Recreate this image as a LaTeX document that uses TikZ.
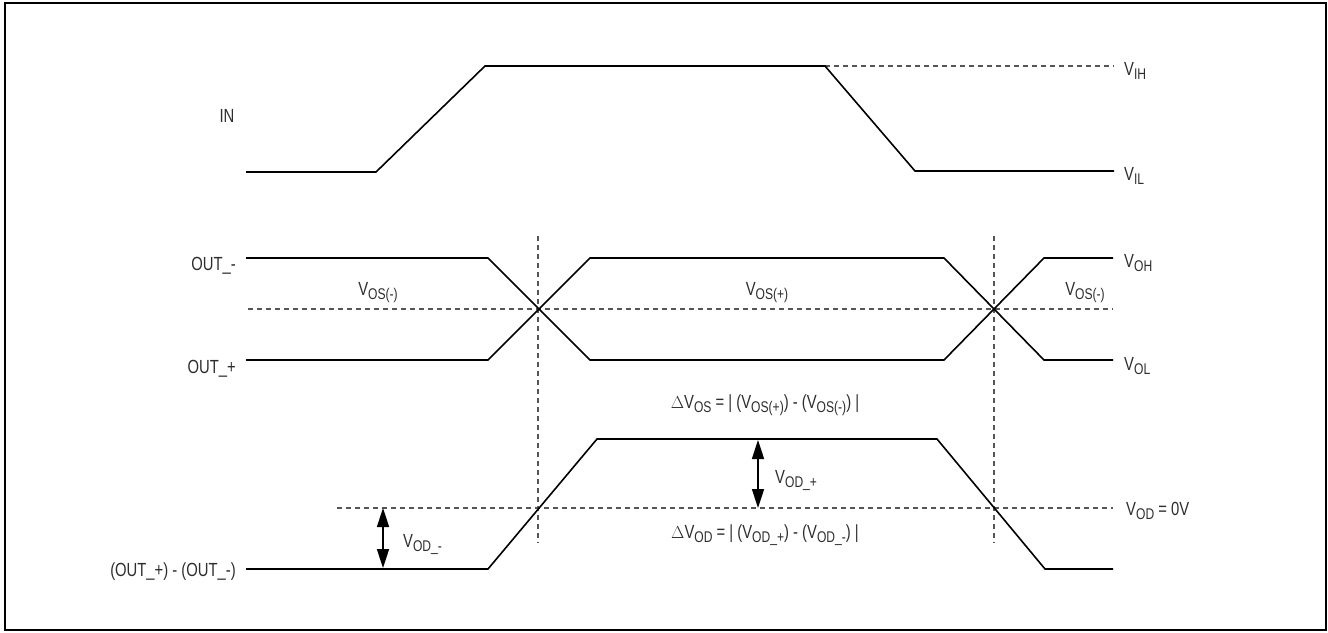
\documentclass[tikz,border=0pt]{standalone}
\usepackage{fontspec}
\setmainfont{Liberation Sans}[FakeStretch=0.78]
\usetikzlibrary{arrows.meta}
\definecolor{txt}{RGB}{45,45,45}
\definecolor{dgray}{RGB}{85,85,85}
\newcommand\lsub[1]{\raisebox{-4pt}{\fontsize{15.5}{16}\selectfont #1}}
\begin{document}
\begin{tikzpicture}[x=1pt,y=-1pt,
  wave/.style={line width=1.6pt,black,line join=miter},
  dline/.style={line width=1.2pt,dgray,dash pattern=on 5pt off 4pt},
  dbl/.style={line width=1.6pt,black,{Triangle[length=19pt,width=12pt]}-{Triangle[length=19pt,width=12pt]}},
  lbl/.style={inner sep=0pt,text=txt,font=\fontsize{19}{22}\selectfont}]
\useasboundingbox (0,0) rectangle (1328,632);
\draw[line width=2pt] (5,3) rectangle (1326,630);
% IN waveform
\draw[dline] (825,66) -- (1114,66);
\draw[wave] (246,172) -- (376,172) -- (485,66) -- (825,66) -- (915,171) -- (1114,171);
\node[lbl,anchor=base] (in) at (227,122) {IN};
\node[lbl,anchor=base west] (vih) at (1124,75) {V\lsub{IH}};
\node[lbl,anchor=base west] (vil) at (1124,180) {V\lsub{IL}};
% OUT waveforms
\draw[dline] (248,309) -- (1113,309);
\draw[dline] (538,236) -- (538,543);
\draw[dline] (994,236) -- (994,543);
\draw[wave] (246,258) -- (488,258) -- (590,360) -- (944,360) -- (1044,258) -- (1113,258);
\draw[wave] (246,360) -- (488,360) -- (590,258) -- (944,258) -- (1044,360) -- (1113,360);
\node[lbl,anchor=base east] (outm) at (236,270) {OUT\_-};
\node[lbl,anchor=base east] (outp) at (236,373) {OUT\_+};
\node[lbl,anchor=base west] (voh) at (1124,267) {V\lsub{OH}};
\node[lbl,anchor=base west] (vol) at (1124,370) {V\lsub{OL}};
\node[lbl,anchor=base] (vosm1) at (378,295) {V\lsub{OS(-)}};
\node[lbl,anchor=base] (vosp) at (767,295) {V\lsub{OS(+)}};
\node[lbl,anchor=base] (vosm2) at (1085,295) {V\lsub{OS(-)}};
\node[lbl,anchor=base] (dvos) at (765,408) {$\Delta$V\lsub{OS} = | (V\lsub{OS(+)}) - (V\lsub{OS(-)}) |};
% differential waveform
\draw[dline] (337,508) -- (1113,508);
\draw[wave] (246,569) -- (488,569) -- (597,439) -- (937,439) -- (1045,569) -- (1113,569);
\node[lbl,anchor=base east] (diff) at (236,576) {(OUT\_+) - (OUT\_-)};
\node[lbl,anchor=base west] (vod0) at (1126,515) {V\lsub{OD} = 0V};
\coordinate (a1) at (758,440);
\coordinate (a2) at (758,508);
\coordinate (b1) at (383,508);
\coordinate (b2) at (383,568);
\draw[dbl] (a1) -- (a2);
\draw[dbl] (b1) -- (b2);
\node[lbl,anchor=base west] (vodp) at (775,483) {V\lsub{OD\_+}};
\node[lbl,anchor=base west] (vodm) at (403,547) {V\lsub{OD\_-}};
\node[lbl,anchor=base] (dvod) at (765,538) {$\Delta$V\lsub{OD} = | (V\lsub{OD\_+}) - (V\lsub{OD\_-}) |};
\end{tikzpicture}
\end{document}
